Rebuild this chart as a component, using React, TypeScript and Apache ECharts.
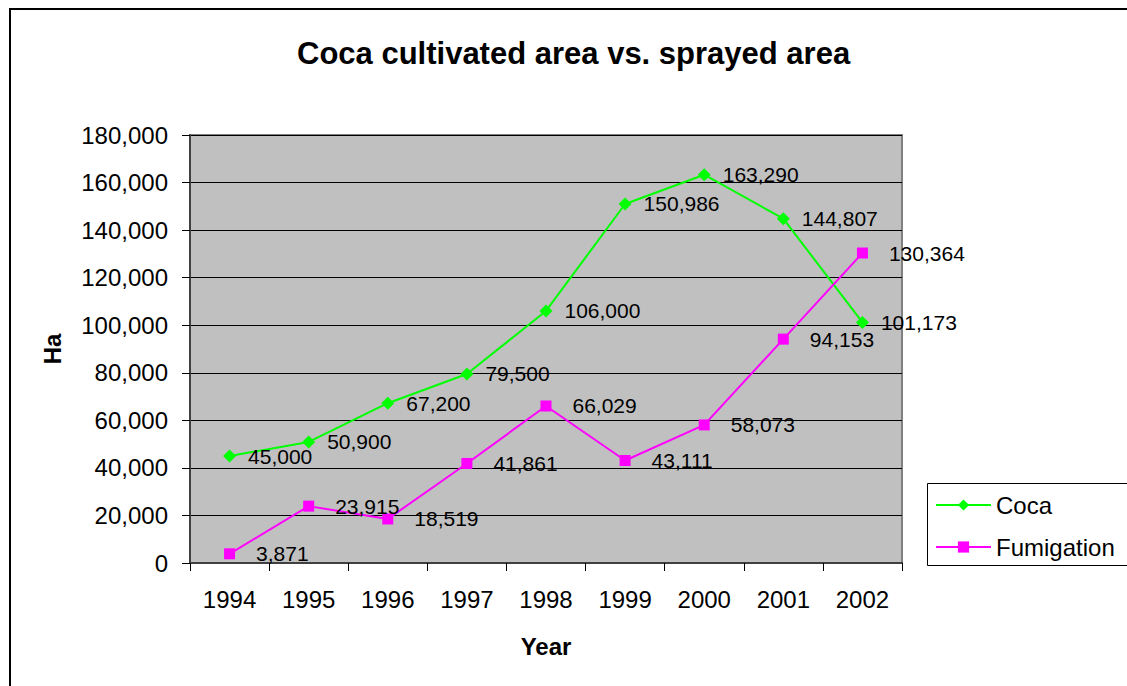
import React, { useEffect, useRef } from "react";
import * as echarts from "echarts";

const years = ["1994", "1995", "1996", "1997", "1998", "1999", "2000", "2001", "2002"];
const cocaValues = [45000, 50900, 67200, 79500, 106000, 150986, 163290, 144807, 101173];
const fumigationValues = [3871, 23915, 18519, 41861, 66029, 43111, 58073, 94153, 130364];

const FONT = "'Liberation Sans', Arial, sans-serif";
const fmt = (v: number) => Math.round(v).toLocaleString("en-US");

export default function App() {
  const ref = useRef<HTMLDivElement>(null);
  useEffect(() => {
    if (!ref.current) return;
    const chart = echarts.init(ref.current, undefined, { renderer: "svg" });
    chart.setOption({
      animation: false,
      backgroundColor: "#ffffff",
      textStyle: { fontFamily: FONT, color: "#000" },
      title: {
        text: "Coca cultivated area vs. sprayed area",
        left: 292,
        top: 33,
        textStyle: { fontFamily: FONT, fontSize: 31, fontWeight: "bold", color: "#000" },
      },
      graphic: [
        {
          type: "rect",
          z: 0,
          silent: true,
          shape: { x: 10, y: 9, width: 1140, height: 700 },
          style: { fill: "none", stroke: "#000", lineWidth: 2 },
        },
        {
          type: "rect",
          z: 0,
          silent: true,
          shape: { x: 927.5, y: 483.5, width: 220, height: 82 },
          style: { fill: "#fff", stroke: "#000", lineWidth: 1 },
        },
      ],
      legend: {
        orient: "vertical",
        left: 930,
        top: 488,
        itemWidth: 55,
        itemHeight: 14,
        itemGap: 18,
        z: 10,
        textStyle: { fontFamily: FONT, fontSize: 24, color: "#000" },
        data: ["Coca", "Fumigation"],
      },
      grid: {
        left: 190,
        top: 135,
        width: 712,
        height: 428,
        show: true,
        backgroundColor: "#C0C0C0",
        borderColor: "#808080",
        borderWidth: 2,
      },
      xAxis: {
        type: "category",
        data: years,
        boundaryGap: true,
        name: "Year",
        nameLocation: "middle",
        nameGap: 71,
        nameTextStyle: { fontFamily: FONT, fontSize: 24, fontWeight: "bold", color: "#000" },
        axisLine: { show: true, lineStyle: { color: "#404040", width: 2 } },
        axisTick: { show: true, alignWithLabel: false, length: 8, lineStyle: { color: "#000", width: 1 } },
        axisLabel: { margin: 24, fontFamily: FONT, fontSize: 24, color: "#000" },
        splitLine: { show: false },
      },
      yAxis: {
        type: "value",
        min: 0,
        max: 180000,
        interval: 20000,
        name: "Ha",
        nameLocation: "middle",
        nameGap: 126,
        nameTextStyle: { fontFamily: FONT, fontSize: 24, fontWeight: "bold", color: "#000" },
        axisLine: { show: true, lineStyle: { color: "#404040", width: 2 } },
        axisTick: { show: true, length: 8, lineStyle: { color: "#000", width: 1 } },
        axisLabel: { margin: 22, fontFamily: FONT, fontSize: 24, color: "#000", formatter: (v: number) => fmt(v) },
        splitLine: { show: true, lineStyle: { color: "#000", width: 1 } },
      },
      series: [
        {
          name: "Coca",
          type: "line",
          data: cocaValues,
          symbol: "diamond",
          symbolSize: 13,
          itemStyle: { color: "#00FF00" },
          lineStyle: { color: "#00FF00", width: 2 },
          label: {
            show: true,
            position: "right",
            distance: 12,
            fontFamily: FONT,
            fontSize: 21,
            color: "#000",
            formatter: (p: any) => fmt(p.value),
          },
        },
        {
          name: "Fumigation",
          type: "line",
          data: fumigationValues,
          symbol: "rect",
          symbolSize: 11,
          itemStyle: { color: "#FF00FF" },
          lineStyle: { color: "#FF00FF", width: 2 },
          label: {
            show: true,
            position: "right",
            distance: 21,
            fontFamily: FONT,
            fontSize: 21,
            color: "#000",
            formatter: (p: any) => fmt(p.value),
          },
        },
      ],
    });
    return () => chart.dispose();
  }, []);
  return (
    <div
      ref={ref}
      style={{ position: "absolute", left: 0, top: 0, width: 1127, height: 686 }}
    />
  );
}
